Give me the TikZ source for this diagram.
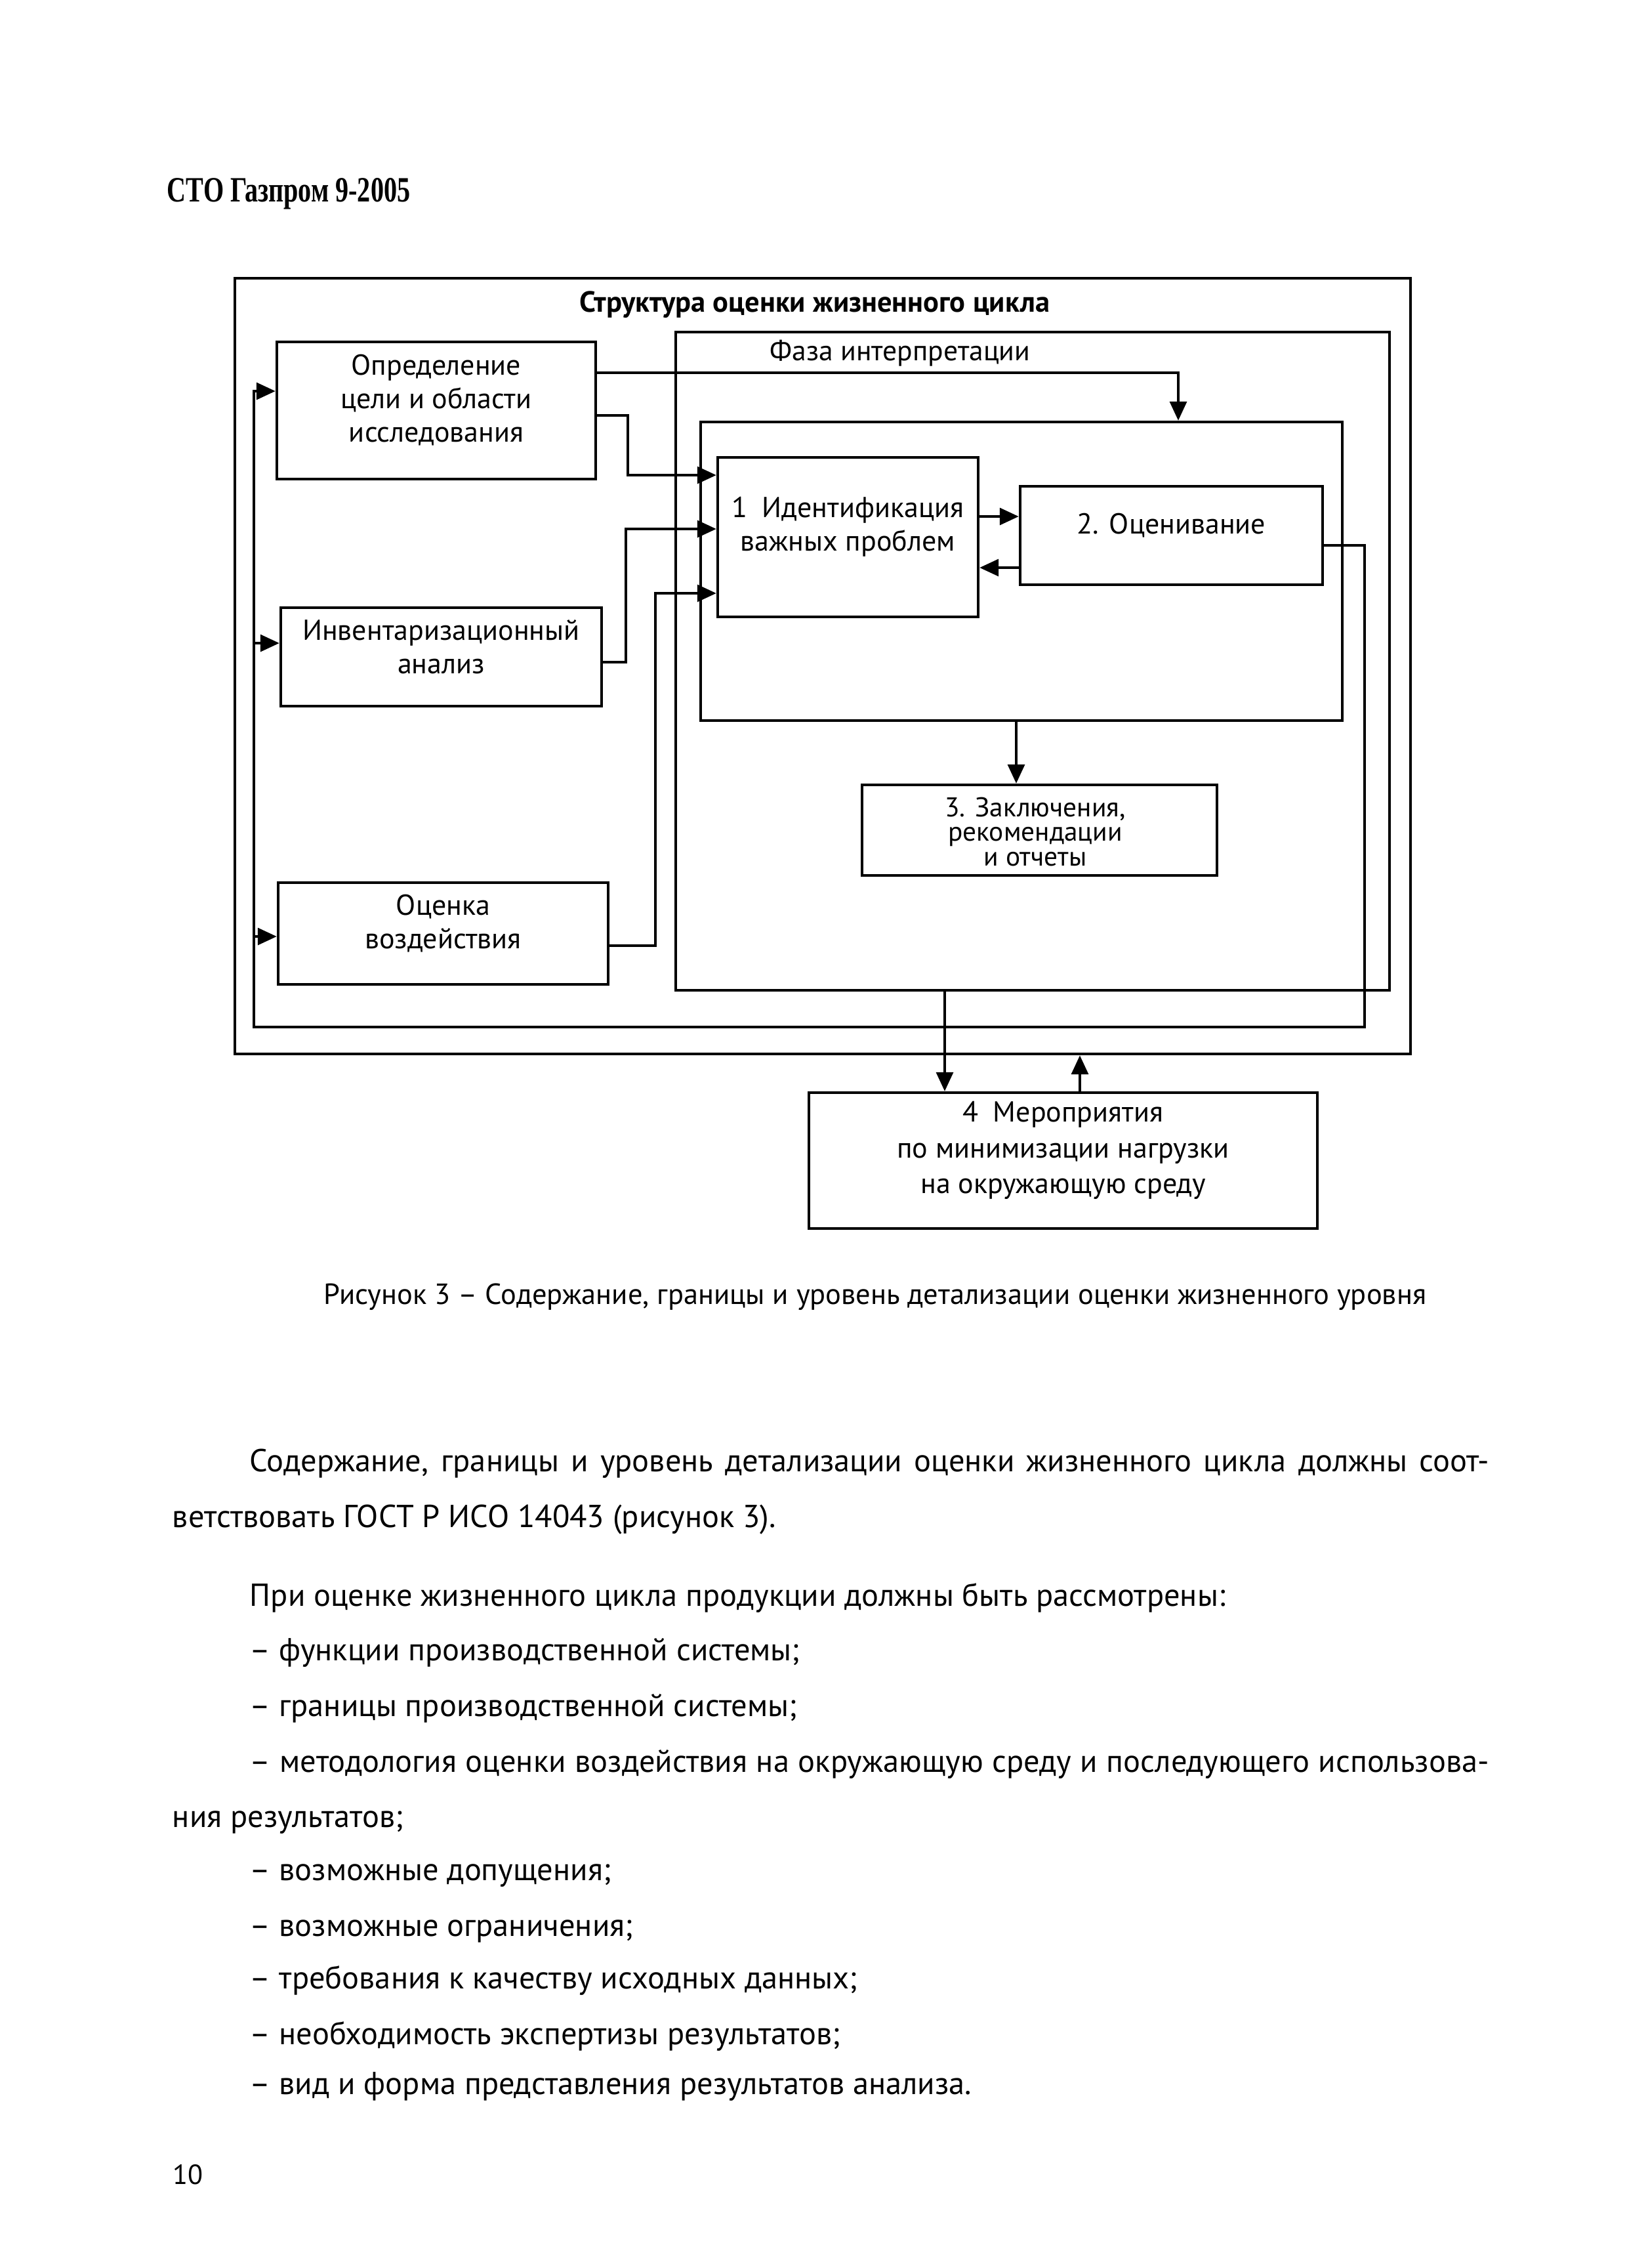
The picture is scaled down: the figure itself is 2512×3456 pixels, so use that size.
\documentclass[tikz,border=0pt]{standalone}
\usepackage{fontspec}
\setmainfont{PT Sans}
\newfontfamily\hdrfont[FakeStretch=0.74]{Liberation Serif}
\usetikzlibrary{arrows.meta,fit}
\begin{document}
\begin{tikzpicture}[x=0.225pt,y=-0.225pt,
  box/.style={draw, line width=1pt, inner sep=0pt, align=center, font=\fontsize{9.9}{11.5}\selectfont},
  frame/.style={draw, line width=1pt, inner sep=0pt},
  conn/.style={line width=0.85pt, -{Triangle[length=6.5pt,width=5.8pt]}},
  body/.style={anchor=base west, inner sep=0pt, font=\fontsize{10.9}{13}\selectfont},
  lbl/.style={anchor=base, inner sep=0pt, font=\fontsize{9.8}{11}\selectfont},
  conctext/.style={inner sep=0pt, align=center, font=\fontsize{9.3}{8.4}\selectfont},
]
\useasboundingbox (0,0) rectangle (2512,3456);

% header
\node[anchor=base west, inner sep=0pt, font=\hdrfont\bfseries\fontsize{12.2}{14}\selectfont] (hdr) at (254,307) {СТО Газпром 9-2005};

% frames
\node[frame, fit={(358,424) (2150,1606)}] (outer) {};
\node[lbl, font=\bfseries\fontsize{10}{11}\selectfont] (title) at (1242,475) {Структура оценки жизненного цикла};
\node[frame, fit={(1030,506) (2118,1509)}] (faza) {};
\node[lbl] (fazalbl) at (1372,549) {Фаза интерпретации};
\node[frame, fit={(1068,643) (2046,1098)}] (inner) {};

% boxes
\node[box, fit={(422,521) (908,730)}] (opred) {Определение\\цели и области\\исследования};
\node[box, fit={(428,926) (917,1076)}] (inv) {Инвентаризационный\\анализ};
\node[box, fit={(424,1345) (927,1500)}] (ocen) {Оценка\\воздействия};
\node[box, fit={(1094,697) (1491,940)}] (ident) {1\enspace Идентификация\\важных проблем};
\node[box, fit={(1555,741) (2016,891)}] (eval) {2. Оценивание};
\node[box, fit={(1314,1196) (1855,1334)}] (concl) {};
\node[conctext, anchor=base] (concltext) at (1578,1319) {3. Заключения,\\рекомендации\\и отчеты};
\node[box, fit={(1233,1665) (2008,1872)}, font=\fontsize{9.9}{12.2}\selectfont] (merop) {4\enspace Мероприятия\\по минимизации нагрузки\\на окружающую среду};

% connectors
\draw[conn] (opred.east |- 0,568) -| (inner.north -| 1796,0);
\draw[conn] (opred.east |- 0,633) -| (957,724) -- (ident.west |- 0,724);
\draw[conn] (inv.east |- 0,1009) -| (954,806) -- (ident.west |- 0,806);
\draw[conn] (ocen.east |- 0,1441) -| (999,904) -- (ident.west |- 0,904);
\draw[conn] (ident.east |- 0,787) -- (eval.west |- 0,787);
\draw[conn] (eval.west |- 0,865) -- (ident.east |- 0,865);
\draw[conn] (eval.east |- 0,831) -| (2080,1565) -| (387,596) -- (opred.west |- 0,596);
\coordinate (lb1) at (387,980);
\coordinate (lb2) at (387,1427);
\draw[conn] (lb1) -- (inv.west |- lb1);
\draw[conn] (lb2) -- (ocen.west |- lb2);
\draw[conn] (inner.south -| 1549,0) -- (concl.north -| 1549,0);
\draw[conn] (faza.south -| 1440,0) -- (merop.north -| 1440,0);
\draw[conn] (merop.north -| 1646,0) -- (outer.south -| 1646,0);

% caption
\node[anchor=base, inner sep=0pt, font=\fontsize{10}{12}\selectfont] (cap) at (1334,1987) {Рисунок 3 -- Содержание, границы и уровень детализации оценки жизненного уровня};

% body text
\node[body] (l1) at (380,2242) {\makebox[425pt][s]{Содержание, границы и уровень детализации оценки жизненного цикла должны соот-}};
\node[body] (l2) at (262,2327) {ветствовать ГОСТ Р ИСО 14043 (рисунок 3).};
\node[body] (l3) at (380,2447) {При оценке жизненного цикла продукции должны быть рассмотрены:};
\node[body] (l4) at (380,2530) {-- функции производственной системы;};
\node[body] (l5) at (380,2615) {-- границы производственной системы;};
\node[body] (l6) at (380,2700) {\makebox[425pt][s]{-- методология оценки воздействия на окружающую среду и последующего использова-}};
\node[body] (l7) at (262,2784) {ния результатов;};
\node[body] (l8) at (380,2865) {-- возможные допущения;};
\node[body] (l9) at (380,2950) {-- возможные ограничения;};
\node[body] (l10) at (380,3030) {-- требования к качеству исходных данных;};
\node[body] (l11) at (380,3115) {-- необходимость экспертизы результатов;};
\node[body] (l12) at (380,3191) {-- вид и форма представления результатов анализа.};

% page number
\node[body, font=\fontsize{9.5}{11}\selectfont] (pg) at (263,3328) {10};
\end{tikzpicture}
\end{document}
